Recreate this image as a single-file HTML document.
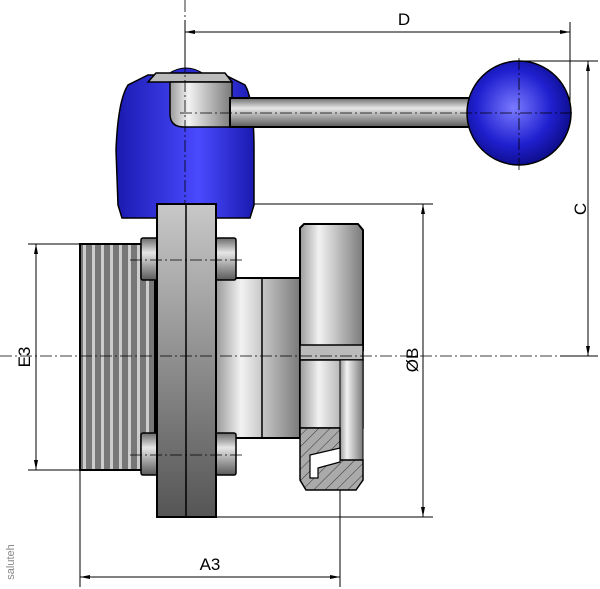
<!DOCTYPE html>
<html><head><meta charset="utf-8"><style>html,body{margin:0;padding:0;background:#fff}svg{display:block}</style></head>
<body>
<svg width="600" height="589" viewBox="0 0 600 589" xmlns="http://www.w3.org/2000/svg" font-family="Liberation Sans, sans-serif">
<defs>
<linearGradient id="gh" x1="0" x2="0" y1="0" y2="1"><stop offset="0" stop-color="#6a6a6a"/><stop offset="0.35" stop-color="#e6e6e6"/><stop offset="1" stop-color="#5a5a5a"/></linearGradient>
<linearGradient id="gv" x1="0" x2="1" y1="0" y2="0"><stop offset="0" stop-color="#9a9a9a"/><stop offset="0.3" stop-color="#f2f2f2"/><stop offset="1" stop-color="#7a7a7a"/></linearGradient>
<linearGradient id="gf" x1="0" x2="0" y1="0" y2="1"><stop offset="0" stop-color="#c8c8c8"/><stop offset="1" stop-color="#555"/></linearGradient>
<linearGradient id="gb" x1="0" x2="1"><stop offset="0" stop-color="#1a1ab0"/><stop offset="0.6" stop-color="#4a4aff"/><stop offset="1" stop-color="#1a1ab0"/></linearGradient>
<radialGradient id="gball" cx="0.45" cy="0.45" r="0.6"><stop offset="0" stop-color="#7a7aff"/><stop offset="0.6" stop-color="#2020d0"/><stop offset="1" stop-color="#0a0a80"/></radialGradient>
<pattern id="thr" width="9" height="10" patternUnits="userSpaceOnUse"><rect width="9" height="10" fill="#777"/><rect x="2" width="3" height="10" fill="#ccc"/></pattern>
<pattern id="hat" width="8" height="8" patternUnits="userSpaceOnUse" patternTransform="rotate(45)"><rect width="8" height="8" fill="#aaa"/><line x1="0" y1="0" x2="0" y2="8" stroke="#333" stroke-width="1"/></pattern>
</defs>
<g stroke="#000" stroke-width="1">
<!-- dimension lines -->
<line x1="185" y1="20" x2="185" y2="205"/>
<line x1="570" y1="22" x2="570" y2="112"/>
<line x1="185" y1="32" x2="570" y2="32"/>
<line x1="520" y1="61" x2="598" y2="61"/>
<line x1="560" y1="356" x2="598" y2="356"/>
<line x1="588" y1="61" x2="588" y2="356"/>
<line x1="216" y1="204" x2="433" y2="204"/>
<line x1="216" y1="517" x2="433" y2="517"/>
<line x1="423" y1="204" x2="423" y2="517"/>
<line x1="28" y1="244" x2="82" y2="244"/>
<line x1="28" y1="470" x2="82" y2="470"/>
<line x1="36" y1="244" x2="36" y2="470"/>
<line x1="80" y1="470" x2="80" y2="587"/>
<line x1="340" y1="470" x2="340" y2="587"/>
<line x1="80" y1="577" x2="340" y2="577"/>
</g>
<g fill="#000">
<polygon points="185,32 195,30 195,34"/><polygon points="570,32 560,30 560,34"/>
<polygon points="588,61 586,71 590,71"/><polygon points="588,356 586,346 590,346"/>
<polygon points="423,204 421,214 425,214"/><polygon points="423,517 421,507 425,507"/>
<polygon points="36,244 34,254 38,254"/><polygon points="36,470 34,460 38,460"/>
<polygon points="80,577 90,575 90,579"/><polygon points="340,577 330,575 330,579"/>
</g>
<!-- threaded pipe -->
<rect x="80" y="244" width="75" height="226" fill="url(#thr)" stroke="#000" stroke-width="2"/>
<!-- body tube -->
<rect x="216" y="278" width="84" height="160" fill="url(#gv)" stroke="#000" stroke-width="2"/>
<line x1="262" y1="278" x2="262" y2="438" stroke="#000" stroke-width="1.5"/>
<!-- right nut -->
<polygon points="300,228 304,224 358,224 363,230 363,350 300,350" fill="url(#gv)" stroke="#000" stroke-width="2"/>
<rect x="300" y="345" width="63" height="15" fill="#bbb" stroke="#000" stroke-width="1.5"/>
<rect x="300" y="360" width="63" height="68" fill="url(#gv)" stroke="#000" stroke-width="1.5"/>
<rect x="340" y="360" width="23" height="100" fill="url(#gv)" stroke="#000" stroke-width="1"/>
<polygon points="300,428 340,428 340,460 363,460 363,480 356,490 306,490 300,480" fill="url(#hat)" stroke="#000" stroke-width="1.5"/>
<polygon points="310,455 340,448 340,462 318,468 318,478 310,478" fill="#fff" stroke="#000" stroke-width="1.2"/>
<!-- nuts -->
<g stroke="#000" stroke-width="1.5" fill="url(#gh)">
<rect x="141" y="238" width="17" height="42" rx="2"/><rect x="216" y="238" width="20" height="42" rx="2"/>
<rect x="141" y="433" width="17" height="42" rx="2"/><rect x="216" y="433" width="20" height="42" rx="2"/>
</g>
<!-- blue handle cap -->
<path d="M122,218 L118,205 L116,150 Q118,100 128,85 L148,75 L225,75 L245,85 Q254,100 254,150 L254,205 L250,218 Z" fill="url(#gb)" stroke="#000" stroke-width="1.5"/>
<path d="M168,74 Q186,62 204,74 Z" fill="#2a2ad0" stroke="#000"/>
<polygon points="148,82 156,73 225,73 232,82" fill="#bbb" stroke="#000" stroke-width="1.5"/>
<path d="M170,82 L232,82 L232,127 L184,127 Q170,127 170,114 Z" fill="url(#gv)" stroke="#000" stroke-width="1.5"/>
<!-- lever -->
<rect x="230" y="98" width="246" height="29" fill="url(#gh)" stroke="#000" stroke-width="2"/>
<circle cx="519" cy="113" r="52" fill="url(#gball)" stroke="#000" stroke-width="1.5"/>
<!-- flange -->
<rect x="157" y="204" width="59" height="313" fill="url(#gf)" stroke="#000" stroke-width="2"/>
<line x1="186" y1="204" x2="186" y2="517" stroke="#000" stroke-width="1.5"/>
<!-- centerlines -->
<g stroke="#000" stroke-width="0.8" stroke-dasharray="12,3,2,3" fill="none">
<line x1="0" y1="356" x2="600" y2="356"/>
<line x1="185" y1="0" x2="185" y2="205"/>
<line x1="180" y1="113" x2="575" y2="113"/>
<line x1="519" y1="58" x2="519" y2="172"/>
<line x1="130" y1="260" x2="245" y2="260"/>
<line x1="130" y1="455" x2="245" y2="455"/>
</g>
<!-- labels -->
<g font-size="17" fill="#000">
<text x="404" y="25" text-anchor="middle">D</text>
<text x="580" y="209" text-anchor="middle" transform="rotate(-90 580 209)" dy="6">C</text>
<text x="412" y="360" text-anchor="middle" transform="rotate(-90 412 360)" dy="6">ØB</text>
<text x="24" y="357" text-anchor="middle" transform="rotate(-90 24 357)" dy="6">E3</text>
<text x="210" y="570" text-anchor="middle">A3</text>
</g>
<text x="10" y="562" font-size="11" fill="#888" text-anchor="middle" transform="rotate(-90 10 562)" dy="4">saluteh</text>
</svg>
</body></html>
